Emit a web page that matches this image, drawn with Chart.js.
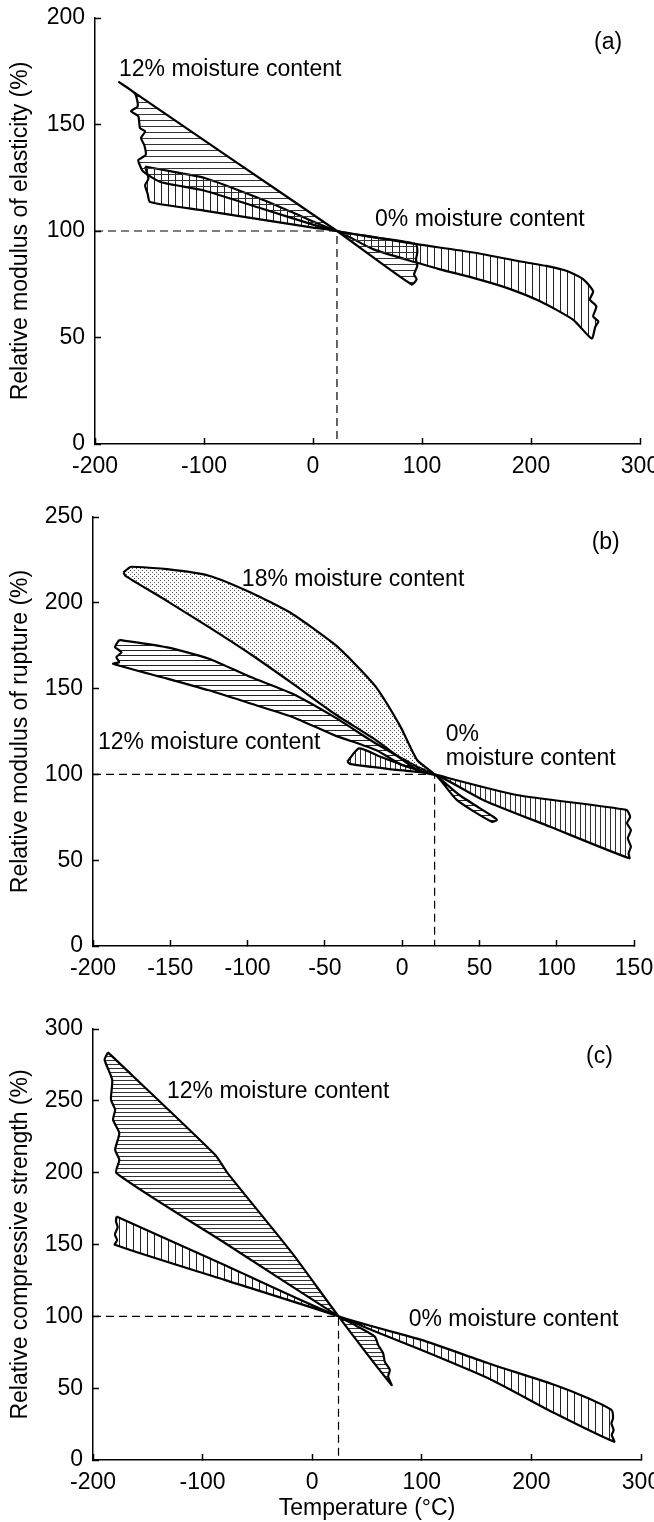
<!DOCTYPE html>
<html>
<head>
<meta charset="utf-8">
<script src="https://cdn.jsdelivr.net/npm/chart.js@4.4.1/dist/chart.umd.min.js"></script>
<style>
  html, body { margin: 0; padding: 0; background: #fff; }
  body { width: 654px; height: 1522px; position: relative; overflow: hidden; }
  canvas { position: absolute; left: 0; }
</style>
</head>
<body>
<canvas id="chartA" width="654" height="500" style="top:0"></canvas>
<canvas id="chartB" width="654" height="500" style="top:500px"></canvas>
<canvas id="chartC" width="654" height="522" style="top:1000px"></canvas>
<script>
// (a) modulus of elasticity: [temperature, relative %] outlines of the bands
var elast12 = [[-178.6,170.1],[-80,135.6],[22,100],[90.5,74.9],[95.1,77.3],[92.7,79.6],[95.7,83.6],[94.5,86.7],[95.7,89.9],[94.5,93.8],[60,96.8],[22,100],[0,103],[-50,111],[-100,119],[-140,123],[-156,128],[-158.7,130.7],[-160.3,133.3],[-153.5,135.7],[-154.8,140.4],[-157.8,143.6],[-154,146.8],[-158.7,148.3],[-160.3,153.9],[-167,156.2],[-160.8,158.6],[-163.3,164.5],[-178.6,170.1]];
var elast0 = [[-154,130.2],[-130,128],[-100,125],[-50,115.5],[-20,109],[0,104.5],[22,100],[60,96.7],[95,93.8],[147,89.9],[196,85.2],[214,83.6],[233,81.2],[248,77.3],[257,71.7],[254,67.8],[260,64.6],[257,59.9],[261.8,57.5],[259,55.1],[255.7,49.5],[238.8,58.3],[208.3,67],[177.7,73.3],[147,78],[116.5,82],[95,85.2],[55,91.5],[22,100],[0,101.6],[-50,105.6],[-100,109.6],[-149.5,113.6],[-151.7,117.5],[-154,121.5],[-151,124.6],[-154,130.2]];
var elastRef = [[-200,100],[22,100],[22,0]];

// (b) modulus of rupture
var rupt18 = [[-180.3,217.7],[-176.3,220.6],[-175,221],[-152,219.6],[-125,215.8],[-98,206],[-71,193.5],[-44,176],[-30.7,164.5],[-17,151],[-1,127.7],[9.7,108.4],[21,100],[9.7,102.6],[-17,120],[-44,135.5],[-71,153],[-98,170],[-125,185.8],[-152,201],[-179,215.7],[-180.3,217.7]];
var rupt12 = [[-183,178.4],[-152,174],[-125,167.4],[-98,156.7],[-71,147],[-44,133.5],[-17,118],[9.7,104.5],[21,100],[37,88],[59,75.3],[61.3,73.4],[58,72.4],[35.5,85],[21,100],[0,105.5],[-17,114.2],[-44,122.9],[-71,133.5],[-98,141.3],[-125,149],[-152,155.8],[-187,164.5],[-183,165.4],[-184.9,168.3],[-181.6,171.2],[-185.7,174.2],[-183,178.4]];
var rupt0 = [[-35.5,107.4],[-27.9,115.2],[-14,110.3],[3.2,104.5],[21,100],[74.2,88],[145,79.3],[147.5,75.3],[145.5,71.5],[148,67.6],[146,62.8],[148,57.9],[146.5,54],[147,51.1],[95.7,69.5],[52.7,85],[21,100],[-3.2,102.6],[-33.4,106],[-35.5,107.4]];
var ruptRef = [[-200,100],[21,100],[21,0]];

// (c) compressive strength
var comp12 = [[-186.3,283.7],[-88.6,212.5],[-77.2,199.7],[-18.3,144],[24,100],[72.4,52.2],[69.3,58],[70.8,62.7],[66.2,68.5],[64.7,74.3],[60.2,80.1],[57.1,85.9],[40,93.5],[24,100],[-80,151.2],[-178.6,199.7],[-176,208.9],[-179.8,215.9],[-176,227.5],[-181.7,236.8],[-179.8,243.8],[-183.6,250.8],[-182.5,264.7],[-189.4,278.6],[-186.3,283.7]];
var comp0 = [[-178.6,169.5],[-80,135.7],[24,100],[99.7,83.6],[160.6,67.4],[221.4,52.2],[251.8,43],[273.1,34.8],[274.5,29],[273,25.5],[275,20.9],[273.3,17.4],[275.5,12.7],[221.4,32.5],[160.6,56.9],[99.7,76.6],[54.1,90.5],[24,100],[-80,125.4],[-180.1,149.8],[-178,153],[-180,157],[-177.5,162],[-179,166],[-178.6,169.5]];
var compRef = [[-200,100],[24,100],[24,0]];

// tick values
var xTicksA = [-200,-100,0,100,200,300];
var yTicksA = [0,50,100,150,200];
var xTicksB = [-200,-150,-100,-50,0,50,100,150];
var yTicksB = [0,50,100,150,200,250];
var xTicksC = [-200,-100,0,100,200,300];
var yTicksC = [0,50,100,150,200,250,300];

var FONT = "'Liberation Sans', Arial, Helvetica, sans-serif";

function hatch(kind, gap, col) {
  var c = document.createElement('canvas');
  var g = c.getContext('2d');
  if (kind === 'h') { c.width = 8; c.height = gap; g.fillStyle = col; g.fillRect(0, 0, 8, 1); }
  else if (kind === 'v') { c.width = gap; c.height = 8; g.fillStyle = col; g.fillRect(0, 0, 1, 8); }
  else { c.width = 4; c.height = 4; g.fillStyle = col; g.fillRect(0, 0, 1, 1); g.fillRect(2, 2, 1, 1); }
  return g.createPattern(c, 'repeat');
}

function pts(list) { return list.map(function (p) { return {x: p[0], y: p[1]}; }); }

function band(list, pattern) {
  return { data: pts(list), showLine: true, fill: 'shape', backgroundColor: pattern,
    borderColor: '#000', borderWidth: 2.2, pointRadius: 0, tension: 0.2, borderJoinStyle: 'round' };
}
function refLine(list) {
  return { data: pts(list), showLine: true, fill: false, borderColor: '#000', borderWidth: 1.2,
    borderDash: [8, 5], pointRadius: 0 };
}

var notesPlugin = {
  id: 'notes',
  afterDatasetsDraw: function (chart, args, opts) {
    var ctx = chart.ctx, xs = chart.scales.x, ys = chart.scales.y;
    ctx.save();
    ctx.fillStyle = '#000';
    ctx.font = '23px ' + FONT;
    ctx.textBaseline = 'middle';
    ctx.textAlign = 'left';
    (opts.items || []).forEach(function (n) {
      ctx.fillText(n.text, xs.getPixelForValue(n.x), ys.getPixelForValue(n.y));
    });
    ctx.restore();
  }
};

function makeChart(id, cfg) {
  var xt = cfg.xTicks, yt = cfg.yTicks;
  new Chart(document.getElementById(id), {
    type: 'scatter',
    data: { datasets: cfg.datasets },
    plugins: [notesPlugin],
    options: {
      responsive: false, animation: false,
      layout: { padding: { top: cfg.top, right: cfg.right, left: 0, bottom: 0 } },
      plugins: { legend: { display: false }, tooltip: { enabled: false }, notes: { items: cfg.notes } },
      scales: {
        x: {
          type: 'linear', min: xt[0], max: xt[xt.length - 1],
          afterBuildTicks: function (s) { s.ticks = xt.map(function (v) { return {value: v}; }); },
          afterFit: function (s) { s.height = cfg.xh; s.paddingLeft = 0; s.paddingRight = 0; },
          ticks: { color: '#000', font: { size: 23, family: FONT }, padding: 15, maxRotation: 0, autoSkip: false },
          grid: { drawOnChartArea: false, tickLength: -6, tickColor: '#000', tickWidth: 1.5 },
          border: { display: true, color: '#000', width: 1.5 },
          title: cfg.xTitle ? { display: true, text: cfg.xTitle, color: '#000', font: { size: 23, family: FONT }, padding: { top: 0, bottom: 0 } } : { display: false }
        },
        y: {
          type: 'linear', min: yt[0], max: yt[yt.length - 1],
          afterBuildTicks: function (s) { s.ticks = yt.map(function (v) { return {value: v}; }); },
          afterFit: function (s) { s.width = cfg.yw; s.paddingTop = 0; s.paddingBottom = 0; },
          ticks: { color: '#000', font: { size: 23, family: FONT }, padding: 16, autoSkip: false },
          grid: { drawOnChartArea: false, tickLength: -6, tickColor: '#000', tickWidth: 1.5 },
          border: { display: true, color: '#000', width: 1.5 },
          title: { display: true, text: cfg.yTitle, color: '#000', font: { size: 23, family: FONT }, padding: { top: 7, bottom: 0 } }
        }
      }
    }
  });
}

makeChart('chartA', {
  xTicks: xTicksA, yTicks: yTicksA, top: 18, right: 14, xh: 56, yw: 95,
  yTitle: 'Relative modulus of elasticity (%)',
  datasets: [refLine(elastRef), band(elast12, hatch('h', 6, '#333')), band(elast0, hatch('v', 7, '#222'))],
  notes: [{text: '12% moisture content', x: -178, y: 175.6}, {text: '0% moisture content', x: 56.9, y: 105.2}, {text: '(a)', x: 257.8, y: 188.3}]
});

makeChart('chartB', {
  xTicks: xTicksB, yTicks: yTicksB, top: 17, right: 20, xh: 54, yw: 93,
  yTitle: 'Relative modulus of rupture (%)',
  datasets: [refLine(ruptRef), band(rupt18, hatch('d', 0, '#555')), band(rupt12, hatch('h', 5, '#222')), band(rupt0, hatch('v', 5, '#333'))],
  notes: [{text: '18% moisture content', x: -103.7, y: 213.3}, {text: '12% moisture content', x: -196.8, y: 118.5},
          {text: '0%', x: 28.2, y: 123}, {text: 'moisture content', x: 28.2, y: 109.4}, {text: '(b)', x: 122.6, y: 234.8}]
});

makeChart('chartC', {
  xTicks: xTicksC, yTicks: yTicksC, top: 29, right: 13, xh: 62, yw: 93,
  yTitle: 'Relative compressive strength (%)', xTitle: 'Temperature (\u00B0C)',
  datasets: [refLine(compRef), band(comp12, hatch('h', 4, '#333')), band(comp0, hatch('v', 7, '#222'))],
  notes: [{text: '12% moisture content', x: -132.5, y: 256.4}, {text: '0% moisture content', x: 88, y: 97.4}, {text: '(c)', x: 249.8, y: 280.7}]
});
</script>
</body>
</html>
